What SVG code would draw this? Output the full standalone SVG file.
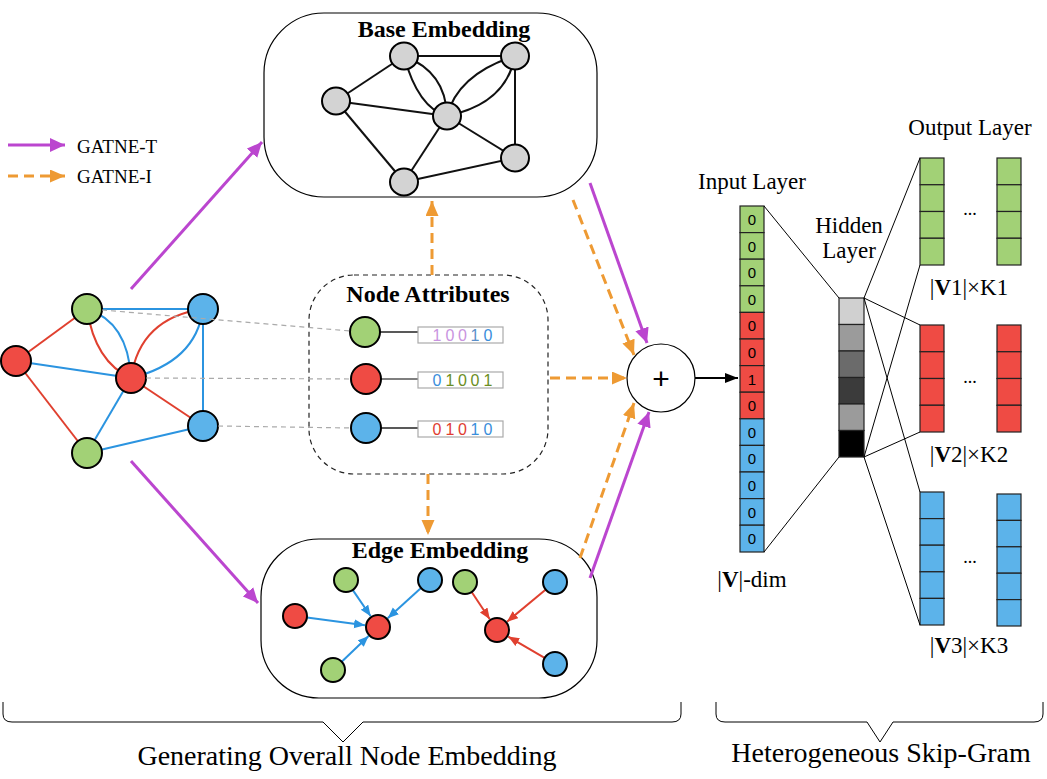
<svg xmlns="http://www.w3.org/2000/svg" width="1047" height="779" viewBox="0 0 1047 779">
<style>
.serif{font-family:"Liberation Serif","Times New Roman",serif;fill:#000}
.title{font-family:"Liberation Serif","Times New Roman",serif;font-weight:bold;font-size:24px;text-anchor:middle}
.lbl{font-family:"Liberation Serif","Times New Roman",serif;font-size:23px;text-anchor:middle}
.sans{font-family:"Liberation Sans",Arial,sans-serif}
.g{fill:#a2d176;stroke:#000;stroke-width:2}
.r{fill:#ef4b44;stroke:#000;stroke-width:2}
.b{fill:#5cb3ea;stroke:#000;stroke-width:2}
.gray{fill:#d3d3d3;stroke:#000;stroke-width:2}
.re{stroke:#e0402f;stroke-width:2;fill:none}
.be{stroke:#2b94e0;stroke-width:2;fill:none}
.ke{stroke:#111;stroke-width:2;fill:none}
.purple{stroke:#bb46cf;stroke-width:3;fill:none;marker-end:url(#mp)}
.orange{stroke:#ee9a33;stroke-width:3;fill:none;stroke-dasharray:10,6;marker-end:url(#mo)}
.gd{stroke:#aaa;stroke-width:1.2;stroke-dasharray:5,4;fill:none}
.thin{stroke:#000;stroke-width:1;fill:none}
.cell{stroke:#222;stroke-width:1.2}
.dig{font-family:"Liberation Sans",Arial,sans-serif;font-size:15px;text-anchor:middle}
.adig{font-family:"Liberation Sans",Arial,sans-serif;font-size:16px;text-anchor:middle}
</style>
<defs>
<marker id="mp" markerUnits="userSpaceOnUse" markerWidth="16" markerHeight="14" refX="15" refY="7" orient="auto"><path d="M0,0 L15,7 L0,14 z" fill="#bb46cf"/></marker>
<marker id="mo" markerUnits="userSpaceOnUse" markerWidth="16" markerHeight="14" refX="15" refY="6.5" orient="auto"><path d="M0,0 L15,6.5 L0,13 z" fill="#ee9a33"/></marker>
<marker id="mk" markerUnits="userSpaceOnUse" markerWidth="14" markerHeight="12" refX="13" refY="5" orient="auto"><path d="M0,0 L13,5 L0,10 z" fill="#000"/></marker>
<marker id="mb" markerUnits="userSpaceOnUse" markerWidth="12" markerHeight="10" refX="11" refY="4.5" orient="auto"><path d="M0,0 L11,4.5 L0,9 z" fill="#2b94e0"/></marker>
<marker id="mr" markerUnits="userSpaceOnUse" markerWidth="12" markerHeight="10" refX="11" refY="4.5" orient="auto"><path d="M0,0 L11,4.5 L0,9 z" fill="#e0402f"/></marker>
</defs>
<rect width="1047" height="779" fill="#fff"/>

<!-- legend -->
<g id="legend">
<line x1="8" y1="145" x2="65" y2="145" class="purple"/>
<text x="77" y="153" class="serif" font-size="19">GATNE-T</text>
<line x1="8" y1="176" x2="65" y2="176" class="orange"/>
<text x="77" y="183" class="serif" font-size="19">GATNE-I</text>
</g>

<!-- input heterogeneous graph -->
<g id="input-graph">
<line x1="16" y1="361" x2="87" y2="309" class="re"/>
<line x1="16" y1="361" x2="87" y2="453" class="re"/>
<line x1="16" y1="361" x2="131" y2="378" class="be"/>
<line x1="87" y1="309" x2="203" y2="309" class="be"/>
<path d="M87,309 Q95,362 131,378" class="re"/>
<path d="M87,309 Q128,322 131,378" class="be"/>
<path d="M203,309 Q140,318 131,378" class="re"/>
<path d="M203,309 Q196,362 131,378" class="be"/>
<line x1="203" y1="309" x2="203" y2="426" class="be"/>
<line x1="131" y1="378" x2="203" y2="426" class="re"/>
<line x1="131" y1="378" x2="87" y2="453" class="be"/>
<line x1="87" y1="453" x2="203" y2="426" class="be"/>
<circle cx="87" cy="309" r="15" class="g"/>
<circle cx="203" cy="309" r="15" class="b"/>
<circle cx="16" cy="361" r="15" class="r"/>
<circle cx="131" cy="378" r="15" class="r"/>
<circle cx="203" cy="426" r="15" class="b"/>
<circle cx="87" cy="453" r="15" class="g"/>
</g>

<!-- Base Embedding -->
<g id="base-embedding">
<rect x="264" y="13" width="333" height="184" rx="60" ry="60" fill="none" stroke="#000" stroke-width="1.2"/>
<text x="444" y="37" class="title">Base Embedding</text>
<line x1="404" y1="56" x2="515" y2="56" class="ke"/>
<line x1="404" y1="56" x2="336" y2="101" class="ke"/>
<path d="M404,56 Q418,108 447,116" class="ke"/>
<path d="M404,56 Q446,72 447,116" class="ke"/>
<path d="M515,56 Q458,74 447,116" class="ke"/>
<path d="M515,56 Q506,104 447,116" class="ke"/>
<line x1="515" y1="56" x2="515" y2="158" class="ke"/>
<line x1="336" y1="101" x2="447" y2="116" class="ke"/>
<line x1="336" y1="101" x2="404" y2="182" class="ke"/>
<line x1="447" y1="116" x2="515" y2="158" class="ke"/>
<line x1="447" y1="116" x2="404" y2="182" class="ke"/>
<line x1="404" y1="182" x2="515" y2="158" class="ke"/>
<ellipse cx="404" cy="56" rx="14" ry="13.5" class="gray"/>
<ellipse cx="515" cy="56" rx="14" ry="13.5" class="gray"/>
<ellipse cx="336" cy="101" rx="14" ry="13.5" class="gray"/>
<ellipse cx="447" cy="116" rx="14" ry="13.5" class="gray"/>
<ellipse cx="515" cy="158" rx="14" ry="13.5" class="gray"/>
<ellipse cx="404" cy="182" rx="14" ry="13.5" class="gray"/>
</g>

<!-- Node Attributes -->
<g id="node-attributes">
<rect x="309" y="275" width="239" height="199" rx="45" ry="45" fill="none" stroke="#222" stroke-width="1.2" stroke-dasharray="5,4"/>
<text x="428" y="302" class="title">Node Attributes</text>
<line x1="380" y1="332" x2="418" y2="332" stroke="#222" stroke-width="1.5"/>
<line x1="381" y1="379" x2="418" y2="379" stroke="#555" stroke-width="1.5"/>
<line x1="381" y1="428" x2="418" y2="428" stroke="#222" stroke-width="1.5"/>
<circle cx="365" cy="332" r="15" class="g"/>
<circle cx="366" cy="379" r="15" class="r"/>
<circle cx="366" cy="428" r="15" class="b"/>
<rect x="418" y="327" width="85" height="16" fill="#fff" stroke="#aaa" stroke-width="1.2"/>
<rect x="418" y="372" width="85" height="16" fill="#fff" stroke="#aaa" stroke-width="1.2"/>
<rect x="418" y="421" width="85" height="16" fill="#fff" stroke="#aaa" stroke-width="1.2"/>
<text class="adig" y="341"><tspan x="437" fill="#c994e0">1</tspan><tspan x="450" fill="#c994e0">0</tspan><tspan x="462.5" fill="#c994e0">0</tspan><tspan x="475" fill="#5b8fc9">1</tspan><tspan x="488" fill="#3a8edb">0</tspan></text>
<text class="adig" y="386"><tspan x="437" fill="#3a8edb">0</tspan><tspan x="450" fill="#6b8e23">1</tspan><tspan x="462.5" fill="#6b8e23">0</tspan><tspan x="475" fill="#6b8e23">0</tspan><tspan x="488" fill="#6b8e23">1</tspan></text>
<text class="adig" y="435"><tspan x="437" fill="#e03c31">0</tspan><tspan x="450" fill="#e03c31">1</tspan><tspan x="462.5" fill="#e03c31">0</tspan><tspan x="475" fill="#3a8edb">1</tspan><tspan x="488" fill="#3a8edb">0</tspan></text>
</g>

<!-- Edge Embedding -->
<g id="edge-embedding">
<rect x="261" y="539" width="336" height="159" rx="58" ry="58" fill="none" stroke="#000" stroke-width="1.2"/>
<text x="440" y="558" class="title">Edge Embedding</text>
<line x1="352.7" y1="589.9" x2="370.7" y2="616.3" class="be" marker-end="url(#mb)"/>
<line x1="307" y1="617.6" x2="365" y2="625.2" class="be" marker-end="url(#mb)"/>
<line x1="421" y1="588.1" x2="387.7" y2="618.3" class="be" marker-end="url(#mb)"/>
<line x1="341.7" y1="661.7" x2="368.6" y2="636" class="be" marker-end="url(#mb)"/>
<line x1="471.7" y1="592" x2="489.8" y2="619.2" class="re" marker-end="url(#mr)"/>
<line x1="545.8" y1="589.6" x2="507" y2="621.7" class="re" marker-end="url(#mr)"/>
<line x1="544.6" y1="657.9" x2="508.2" y2="636.6" class="re" marker-end="url(#mr)"/>
<circle cx="346" cy="580" r="12" class="g"/>
<circle cx="295" cy="616" r="12" class="r"/>
<circle cx="378" cy="627" r="12" class="r"/>
<circle cx="333" cy="670" r="12" class="g"/>
<circle cx="430" cy="580" r="12" class="b"/>
<circle cx="465" cy="582" r="12" class="g"/>
<circle cx="555" cy="582" r="12" class="b"/>
<circle cx="497" cy="630" r="12" class="r"/>
<circle cx="555" cy="664" r="12" class="b"/>
</g>

<!-- sum node -->
<g id="sum">
<circle cx="661" cy="378" r="34" fill="#fff" stroke="#000" stroke-width="1.2"/>
<text x="661" y="389" class="sans" font-size="30" text-anchor="middle">+</text>
</g>

<!-- Input layer -->
<g id="input-layer">
<text x="752" y="189" class="lbl">Input Layer</text>
<g class="cell">
<rect x="740" y="206" width="24" height="26.6" fill="#a2d176"/>
<rect x="740" y="232.6" width="24" height="26.6" fill="#a2d176"/>
<rect x="740" y="259.2" width="24" height="26.6" fill="#a2d176"/>
<rect x="740" y="285.8" width="24" height="26.6" fill="#a2d176"/>
<rect x="740" y="312.4" width="24" height="26.6" fill="#ef4b44"/>
<rect x="740" y="339" width="24" height="26.6" fill="#ef4b44"/>
<rect x="740" y="365.6" width="24" height="26.6" fill="#ef4b44"/>
<rect x="740" y="392.2" width="24" height="26.6" fill="#ef4b44"/>
<rect x="740" y="418.8" width="24" height="26.6" fill="#5cb3ea"/>
<rect x="740" y="445.4" width="24" height="26.6" fill="#5cb3ea"/>
<rect x="740" y="472" width="24" height="26.6" fill="#5cb3ea"/>
<rect x="740" y="498.6" width="24" height="26.6" fill="#5cb3ea"/>
<rect x="740" y="525.2" width="24" height="26.8" fill="#5cb3ea"/>
</g>
<g class="dig">
<text x="752" y="225">0</text><text x="752" y="251.6">0</text><text x="752" y="278.2">0</text><text x="752" y="304.8">0</text>
<text x="752" y="331.4">0</text><text x="752" y="358">0</text><text x="752" y="384.6">1</text><text x="752" y="411.2">0</text>
<text x="752" y="437.8">0</text><text x="752" y="464.4">0</text><text x="752" y="491">0</text><text x="752" y="517.6">0</text><text x="752" y="544.2">0</text>
</g>
<text x="752" y="587" class="lbl">|<tspan font-weight="bold">V</tspan>|-dim</text>
</g>

<!-- Hidden layer -->
<g id="hidden-layer">
<text x="849" y="233" class="lbl">Hidden</text>
<text x="849" y="258" class="lbl">Layer</text>
<g class="cell">
<rect x="839" y="298" width="25" height="26.5" fill="#d0d0d0"/>
<rect x="839" y="324.5" width="25" height="26.5" fill="#9b9b9b"/>
<rect x="839" y="351" width="25" height="26.5" fill="#6b6b6b"/>
<rect x="839" y="377.5" width="25" height="26.5" fill="#3b3b3b"/>
<rect x="839" y="404" width="25" height="26.5" fill="#9b9b9b"/>
<rect x="839" y="430.5" width="25" height="26.5" fill="#000"/>
</g>
</g>

<!-- Output layer -->
<g id="output-layer">
<text x="970" y="135" class="lbl">Output Layer</text>
<g class="cell" fill="#a2d176">
<rect x="920" y="158" width="24" height="26.75"/><rect x="920" y="184.75" width="24" height="26.75"/><rect x="920" y="211.5" width="24" height="26.75"/><rect x="920" y="238.25" width="24" height="26.75"/>
<rect x="997" y="158" width="24" height="26.75"/><rect x="997" y="184.75" width="24" height="26.75"/><rect x="997" y="211.5" width="24" height="26.75"/><rect x="997" y="238.25" width="24" height="26.75"/>
</g>
<text x="970" y="215" class="serif" font-size="18" text-anchor="middle">...</text>
<text x="969" y="295" class="lbl">|<tspan font-weight="bold">V</tspan>1|×K1</text>
<g class="cell" fill="#ef4b44">
<rect x="920" y="325" width="24" height="26.75"/><rect x="920" y="351.75" width="24" height="26.75"/><rect x="920" y="378.5" width="24" height="26.75"/><rect x="920" y="405.25" width="24" height="26.75"/>
<rect x="997" y="325" width="24" height="26.75"/><rect x="997" y="351.75" width="24" height="26.75"/><rect x="997" y="378.5" width="24" height="26.75"/><rect x="997" y="405.25" width="24" height="26.75"/>
</g>
<text x="970" y="383" class="serif" font-size="18" text-anchor="middle">...</text>
<text x="969" y="462" class="lbl">|<tspan font-weight="bold">V</tspan>2|×K2</text>
<g class="cell" fill="#5cb3ea">
<rect x="920" y="492" width="24" height="26.6"/><rect x="920" y="518.6" width="24" height="26.6"/><rect x="920" y="545.2" width="24" height="26.6"/><rect x="920" y="571.8" width="24" height="26.6"/><rect x="920" y="598.4" width="24" height="26.6"/>
<rect x="997" y="494" width="24" height="26.4"/><rect x="997" y="520.4" width="24" height="26.4"/><rect x="997" y="546.8" width="24" height="26.4"/><rect x="997" y="573.2" width="24" height="26.4"/><rect x="997" y="599.6" width="24" height="26.4"/>
</g>
<text x="970" y="563" class="serif" font-size="18" text-anchor="middle">...</text>
<text x="969" y="653" class="lbl">|<tspan font-weight="bold">V</tspan>3|×K3</text>
</g>

<!-- connectors -->
<g id="connectors">
<line x1="102" y1="310" x2="350" y2="331" class="gd"/>
<line x1="146" y1="378" x2="351" y2="379" class="gd"/>
<line x1="218" y1="426" x2="351" y2="428" class="gd"/>
<line x1="131" y1="289" x2="262" y2="142" class="purple"/>
<line x1="131" y1="461" x2="258" y2="603" class="purple"/>
<line x1="590" y1="183" x2="647" y2="343" class="purple"/>
<line x1="590" y1="578" x2="649" y2="412" class="purple"/>
<line x1="432" y1="275" x2="432" y2="201" class="orange"/>
<line x1="428" y1="474" x2="428" y2="535" class="orange"/>
<line x1="550" y1="378" x2="627" y2="378" class="orange"/>
<line x1="573" y1="200" x2="634" y2="355" class="orange"/>
<line x1="580" y1="558" x2="634" y2="403" class="orange"/>
<line x1="695" y1="378" x2="738" y2="378" stroke="#000" stroke-width="2" marker-end="url(#mk)"/>
<line x1="764" y1="206" x2="839" y2="298" class="thin"/>
<line x1="764" y1="552" x2="839" y2="457" class="thin"/>
<line x1="864" y1="298" x2="920" y2="158" class="thin"/>
<line x1="864" y1="457" x2="920" y2="265" class="thin"/>
<line x1="864" y1="298" x2="920" y2="325" class="thin"/>
<line x1="864" y1="457" x2="920" y2="432" class="thin"/>
<line x1="864" y1="298" x2="920" y2="492" class="thin"/>
<line x1="864" y1="457" x2="920" y2="625" class="thin"/>
</g>

<!-- braces and captions -->
<g id="brace-left">
<path d="M3,702 L3,714 Q3,722 12,722 L323,722 L343,742 L363,722 L672,722 Q681,722 681,714 L681,702" fill="none" stroke="#000" stroke-width="1"/>
<text x="347" y="765" class="serif" font-size="28" text-anchor="middle">Generating Overall Node Embedding</text>
</g>
<g id="brace-right">
<path d="M716,702 L716,714 Q716,722 725,722 L867,722 L880,742 L893,722 L1034,722 Q1043,722 1043,714 L1043,702" fill="none" stroke="#000" stroke-width="1"/>
<text x="881" y="762" class="serif" font-size="28" text-anchor="middle">Heterogeneous Skip-Gram</text>
</g>
</svg>
